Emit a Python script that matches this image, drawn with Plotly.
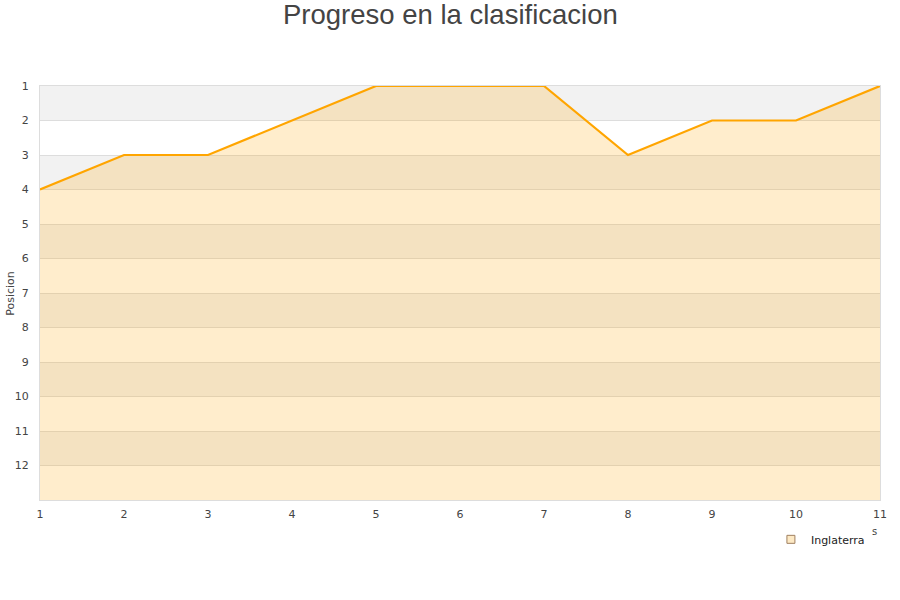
import plotly.graph_objects as go

jornadas = [1, 2, 3, 4, 5, 6, 7, 8, 9, 10, 11]
posiciones = [4, 3, 3, 2, 1, 1, 1, 3, 2, 2, 1]
y_ticks = list(range(1, 13))
equipo = "Inglaterra"

fig = go.Figure()

# alternating background bands (gray on odd rows)
for k in range(1, 13, 2):
    fig.add_shape(type="rect", xref="paper", yref="y", x0=0, x1=1, y0=k, y1=k + 1,
                  fillcolor="#f2f2f2", line_width=0, layer="below")

fig.add_trace(go.Scatter(
    x=jornadas, y=[13] * len(jornadas), mode="lines",
    line=dict(width=0, color="rgba(0,0,0,0)"), showlegend=False, hoverinfo="skip"))
fig.add_trace(go.Scatter(
    x=jornadas, y=posiciones, mode="lines", fill="tonexty",
    fillcolor="rgba(255,165,0,0.2)",
    line=dict(color="#ffa500", width=2.2), showlegend=False, name=equipo))
fig.add_trace(go.Scatter(
    x=[None], y=[None], mode="markers", name=equipo,
    marker=dict(symbol="square", size=8, color="#fde9c4",
                line=dict(color="#a08060", width=1))))

fig.update_layout(
    width=900, height=600,
    paper_bgcolor="white", plot_bgcolor="white",
    margin=dict(l=40, r=20, t=86, b=100, autoexpand=False),
    font=dict(family="DejaVu Sans", size=11, color="#444"),
    legend=dict(x=0.988, xanchor="right", y=-0.06, yanchor="top",
                font=dict(family="DejaVu Sans", size=11, color="#222"),
                bgcolor="rgba(0,0,0,0)"),
    showlegend=True,
)
fig.update_xaxes(range=[1, 11], tickvals=jornadas, showgrid=False, zeroline=False,
                 showline=True, linecolor="#dddddd", mirror=True, ticks="",
                 ticklabelstandoff=4,
                 automargin=False, tickfont=dict(size=11, color="#444"))
fig.update_yaxes(range=[13, 1], tickvals=y_ticks, showgrid=True, gridcolor="#dddddd",
                 zeroline=False, showline=True, linecolor="#dddddd", mirror=True,
                 ticks="", ticklabelstandoff=8, automargin=False,
                 tickfont=dict(size=11, color="#444"))

fig.add_annotation(text="Progreso en la clasificacion", xref="paper", yref="paper",
                   x=(450 - 40) / 840, y=(500 - 15) / 414, yanchor="middle", showarrow=False,
                   font=dict(family="Liberation Sans, Arial", size=27.5, color="#444"))
fig.add_annotation(text="Posicion", xref="paper", yref="paper", x=-0.036, y=0.5,
                   textangle=-90, xanchor="center", yanchor="middle", showarrow=False,
                   font=dict(size=11, color="#444"))
fig.add_annotation(text="s", xref="paper", yref="paper", x=0.999, y=-0.094,
                   showarrow=False, font=dict(size=10, color="#444"))

fig.write_html("out.html", config={"displayModeBar": False},
               post_script="document.body.style.margin='0';")
